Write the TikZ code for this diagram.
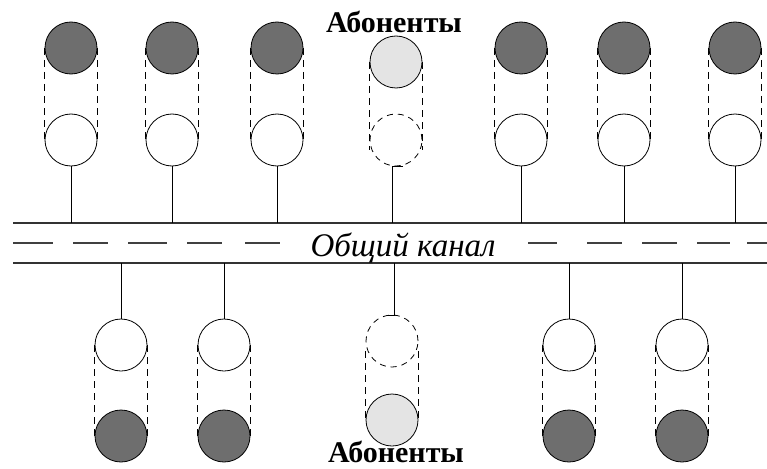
\documentclass[tikz,border=0pt]{standalone}
\usepackage{fontspec}
\setmainfont{Liberation Serif}
\begin{document}
\begin{tikzpicture}[x=1pt,y=-1pt,
  station/.style={circle,draw=black,line width=0.8pt,minimum size=52pt,inner sep=0pt},
  busy/.style={station,fill=darkfill},
  idle/.style={station,fill=white},
  ghost/.style={station,fill=lightfill},
  ghostdash/.style={station,dashed,dash pattern=on 6pt off 5pt,fill=white},
  side/.style={line width=0.9pt,dash pattern=on 7pt off 5pt},
  stem/.style={line width=1pt},
  chan/.style={line width=1.6pt,draw=black!80},
  chandash/.style={line width=1.6pt,draw=black!75},
  lbl/.style={font=\bfseries\fontsize{30}{36}\selectfont,anchor=base,inner sep=0pt},
  clbl/.style={font=\itshape\fontsize{33}{40}\selectfont,anchor=base,inner sep=0pt}]
\definecolor{darkfill}{RGB}{110,110,110}
\definecolor{lightfill}{RGB}{228,228,228}
\useasboundingbox (0,0) rectangle (767,468);
% channel
\coordinate (ctl) at (13,223);
\coordinate (ctr) at (767,223);
\coordinate (cbl) at (13,263);
\coordinate (cbr) at (767,263);
\draw[chan] (ctl) -- (ctr);
\draw[chan] (cbl) -- (cbr);
\foreach \a/\b in {13/53,73/108,128/167,187/222,245/280,528/557,587/622,642/677,697/730,747/767}{
  \draw[chandash] (\a,243) -- (\b,243);
}
\node[clbl] (chanlabel) at (403,256) {Общий канал};
% top row
\foreach \i/\x in {1/71,2/172,3/277,5/521,6/624,7/735}{
  \node[busy] (t\i a) at (\x,48) {};
  \node[idle] (t\i b) at (\x,140) {};
  \draw[side] (t\i a.west) -- (t\i b.west);
  \draw[side] (t\i a.east) -- (t\i b.east);
  \draw[stem] (t\i b.south) -- (t\i b.south |- ctl);
}
% top middle (ghost)
\node[ghost] (t4a) at (396,62) {};
\node[ghostdash] (t4b) at (396,140) {};
\coordinate (t4s) at (392,166);
\coordinate (t4h) at (403,166);
\draw[side] (t4a.west) -- ([yshift=-10pt]t4b.west);
\draw[side] (t4a.east) -- ([yshift=-10pt]t4b.east);
\draw[stem] (t4h) -- (t4s) -- (t4s |- ctl);
% bottom row
\foreach \i/\x in {1/121,2/224,4/569,5/682}{
  \node[idle] (b\i a) at (\x,345) {};
  \node[busy] (b\i b) at (\x,436) {};
  \draw[side] (b\i a.west) -- (b\i b.west);
  \draw[side] (b\i a.east) -- (b\i b.east);
  \draw[stem] (b\i a.north) -- (b\i a.north |- cbl);
}
% bottom middle (ghost)
\node[ghostdash] (b3a) at (392,341) {};
\node[ghost] (b3b) at (392,420) {};
\coordinate (b3s) at (394,315);
\coordinate (b3h) at (387,315);
\draw[side] ([yshift=-10pt]b3a.west) -- (b3b.west);
\draw[side] ([yshift=-10pt]b3a.east) -- (b3b.east);
\draw[stem] (b3h) -- (b3s) -- (b3s |- cbl);
% labels
\node[lbl] (toplabel) at (394,33) {Абоненты};
\node[lbl] (botlabel) at (396,462) {Абоненты};
\end{tikzpicture}
\end{document}
